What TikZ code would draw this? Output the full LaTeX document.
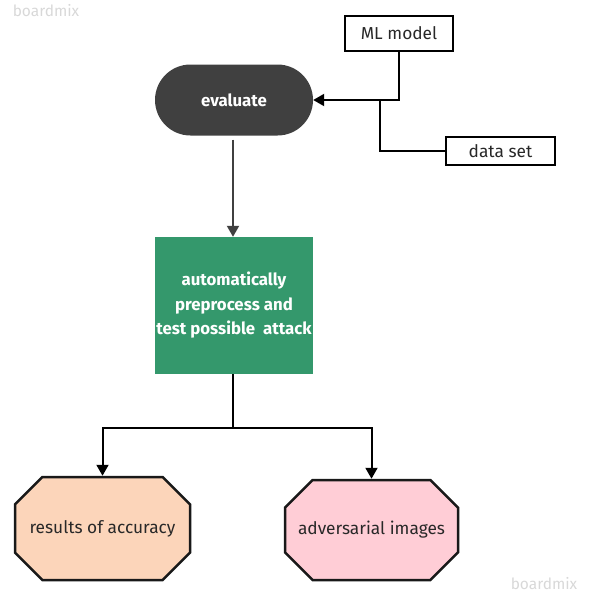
\documentclass[tikz,border=0pt]{standalone}
\usepackage{fontspec}
\setmainfont{Fira Sans}
\usetikzlibrary{shapes.misc,arrows.meta}
\definecolor{evalgray}{RGB}{64,64,64}
\definecolor{procgreen}{RGB}{52,152,108}
\definecolor{peach}{RGB}{252,213,186}
\definecolor{pinkish}{RGB}{255,205,214}
\definecolor{wmgray}{RGB}{216,216,216}
\definecolor{txtdark}{RGB}{40,40,40}
\begin{document}
\begin{tikzpicture}[x=1pt,y=-1pt,
  wmark/.style={text=wmgray,font=\fontsize{15.5}{18}\selectfont,inner sep=0pt},
  box/.style={draw=black,line width=2.5pt,fill=white,inner sep=0pt,text=txtdark,font=\fontsize{17.3}{20}\selectfont},
  evalbox/.style={rounded rectangle,fill=evalgray,text=white,inner sep=0pt,font=\fontsize{16.8}{20}\selectfont\bfseries},
  procbox/.style={rectangle,fill=procgreen,text=white,inner sep=0pt,align=center,font=\fontsize{16.8}{24.5}\selectfont\bfseries},
  oct/.style={chamfered rectangle,chamfered rectangle xsep=19pt,chamfered rectangle ysep=19pt,draw=black!90,line width=2.5pt,inner sep=0pt,text=txtdark,font=\fontsize{17.3}{20}\selectfont},
  conn/.style={draw=black,line width=2pt},
  arr/.style={conn,-{Triangle[length=11pt,width=12pt]}},
  grayarr/.style={draw=evalgray,line width=2pt,-{Triangle[length=11pt,width=12pt]}}
]
\useasboundingbox (0,0) rectangle (589,595);
\node[wmark] (wm1) at (46,11) {boardmix};
\node[wmark] (wm2) at (544,584) {boardmix};

\node[box,minimum width=108pt,minimum height=35pt] (ml) at (399,33.5) {ML model};
\node[evalbox,minimum width=158pt,minimum height=71pt] (ev) at (234,100) {evaluate};
\node[box,minimum width=109pt,minimum height=28pt] (ds) at (500.5,151) {data set};
\node[procbox,minimum width=158pt,minimum height=137pt] (proc) at (234,305.5) {automatically\\preprocess and\\test possible\ \ attack};
\node[oct,fill=peach,minimum width=175pt,minimum height=103pt] (acc) at (102.5,528.5) {results of accuracy};
\node[oct,fill=pinkish,minimum width=173pt,minimum height=100pt] (adv) at (371.5,530) {adversarial images};

\coordinate (jn) at (380,100);
\coordinate (split) at (233,428);

\draw[arr] (ml.south) |- (ev.east);
\draw[conn] (ds.west) -| (jn);
\draw[grayarr,shorten <=4pt] (ev.south -| 233,0) -- (proc.north -| 233,0);
\draw[conn] (proc.south -| split) -- (split);
\draw[arr] (split) -| (acc.north);
\draw[arr] (split) -| (adv.north);
\end{tikzpicture}
\end{document}
